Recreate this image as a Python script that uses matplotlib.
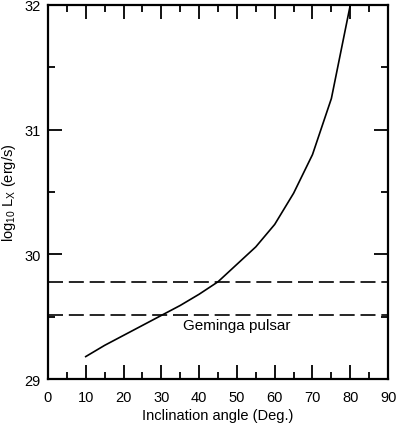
import numpy as np
import matplotlib
matplotlib.use("Agg")
import matplotlib.pyplot as plt
from matplotlib.ticker import MultipleLocator

plt.rcParams["font.family"] = ["Liberation Sans", "DejaVu Sans"]
plt.rcParams["mathtext.default"] = "regular"

# curve
angle = [10, 15, 20, 25, 30, 35, 40, 45, 50, 55, 60, 65, 70, 75, 80]
log_lx = [29.18, 29.27, 29.35, 29.43, 29.51, 29.59, 29.68, 29.78,
          29.92, 30.06, 30.24, 30.49, 30.80, 31.25, 32.0]

# Geminga limits
geminga_levels = [29.78, 29.51]

fig = plt.figure(figsize=(3.96, 4.27), dpi=100)
ax = fig.add_axes([0.121, 0.110, 0.859, 0.876])

ax.plot(angle, log_lx, color="black", lw=1.2)
for lev in geminga_levels:
    ax.axhline(lev, color="black", lw=1.2, dashes=(9, 3.5))
ax.text(50, 29.43, "Geminga pulsar", ha="center", va="center", fontsize=11)

ax.set_xlim(0, 90)
ax.set_ylim(29, 32)
ax.xaxis.set_major_locator(MultipleLocator(10))
ax.xaxis.set_minor_locator(MultipleLocator(5))
ax.yaxis.set_major_locator(MultipleLocator(1))
ax.yaxis.set_minor_locator(MultipleLocator(0.5))
ax.tick_params(which="both", direction="in", top=True, right=True,
               width=1.3, labelsize=10.5)
ax.tick_params(which="major", length=10)
ax.tick_params(which="minor", length=5)
ax.tick_params(axis="x", which="major", pad=8)
ax.tick_params(axis="y", which="major", pad=5)
for s in ax.spines.values():
    s.set_linewidth(1.6)

ax.set_xlabel("Inclination angle (Deg.)", fontsize=10.5, labelpad=3)
ax.set_ylabel("log$_{10}$ L$_{X}$ (erg/s)", fontsize=10.5, labelpad=5)

fig.savefig("out.png", dpi=100)
